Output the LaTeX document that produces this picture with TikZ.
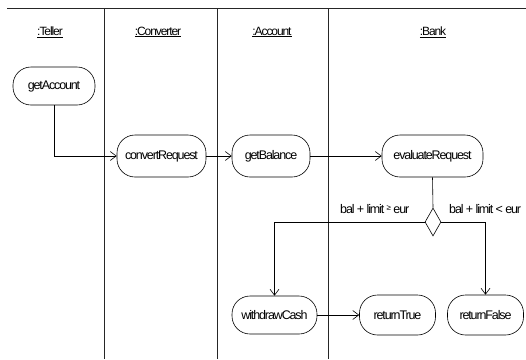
\documentclass[tikz,border=0pt]{standalone}
\usepackage{fontspec}
\setmainfont{Liberation Sans}[LetterSpace=-9]
\usetikzlibrary{arrows.meta,shapes.geometric}

\begin{document}
\begin{tikzpicture}[x=1pt,y=-1pt,
  lane/.style={draw=black!85, line width=0.6pt},
  act/.style={draw, line width=0.6pt, rounded corners=18pt, minimum height=40pt,
              inner sep=0pt, font=\fontsize{12.5}{14}\selectfont},
  hdr/.style={inner sep=0pt, font=\fontsize{12}{14}\selectfont},
  guard/.style={inner sep=0pt, anchor=base west, font=\fontsize{12.5}{14}\selectfont},
  link/.style={draw, line width=0.6pt},
  flow/.style={link, -{Straight Barb[length=6pt,width=9pt,line width=0.6pt]}}]

\useasboundingbox (0,0) rectangle (526,359);
\clip (0,0) rectangle (526,359);

% swimlane frame
\draw[lane] (7,8) -- (526,8);
\draw[lane] (104,8) -- (104,359);
\draw[lane] (217,8) -- (217,359);
\draw[lane] (328,8) -- (328,359);

% lane headers
\node[hdr] (hTeller) at (50,32) {\underline{:Teller}};
\node[hdr] (hConv)   at (158,32) {\underline{:Converter}};
\node[hdr] (hAcc)    at (272,32) {\underline{:Account}};
\node[hdr] (hBank)   at (433,32) {\underline{:Bank}};

% activities
\node[act, minimum width=82pt, minimum height=38pt] (ga) at (54,86) {getAccount};
\node[act, minimum width=89pt, minimum height=42pt] (cr) at (161.5,156) {convertRequest};
\node[act, minimum width=78pt, minimum height=42pt] (gb) at (271,156) {getBalance};
\node[act, minimum width=101pt, minimum height=42pt] (er) at (432.5,156) {evaluateRequest};
\node[act, minimum width=85pt, minimum height=38pt] (wc) at (274.5,315) {withdrawCash};
\node[act, minimum width=76pt, minimum height=40pt] (rt) at (397.5,315) {returnTrue};
\node[act, minimum width=76pt, minimum height=40pt] (rf) at (485.5,315) {returnFalse};

% decision
\node[draw, line width=0.6pt, diamond, inner sep=0pt, minimum width=16pt, minimum height=28pt] (dec) at (433,222) {};

% guards
\node[guard] (gYes) at (340,213) {bal + limit {\fontsize{8}{8}\selectfont\raisebox{3pt}{≥}} eur};
\node[guard] (gNo)  at (449,213) {bal + limit < eur};

% control flow
\draw[flow] (ga.south) |- (cr.west);
\draw[flow] (cr.east) -- (gb.west);
\draw[flow] (gb.east) -- (er.west);
\draw[link] (er.south) -- (dec.north);
\draw[flow] (dec.west) -| (wc.north);
\draw[flow] (dec.east) -| (rf.north);
\draw[flow] (wc.east) -- (rt.west);
\end{tikzpicture}
\end{document}
